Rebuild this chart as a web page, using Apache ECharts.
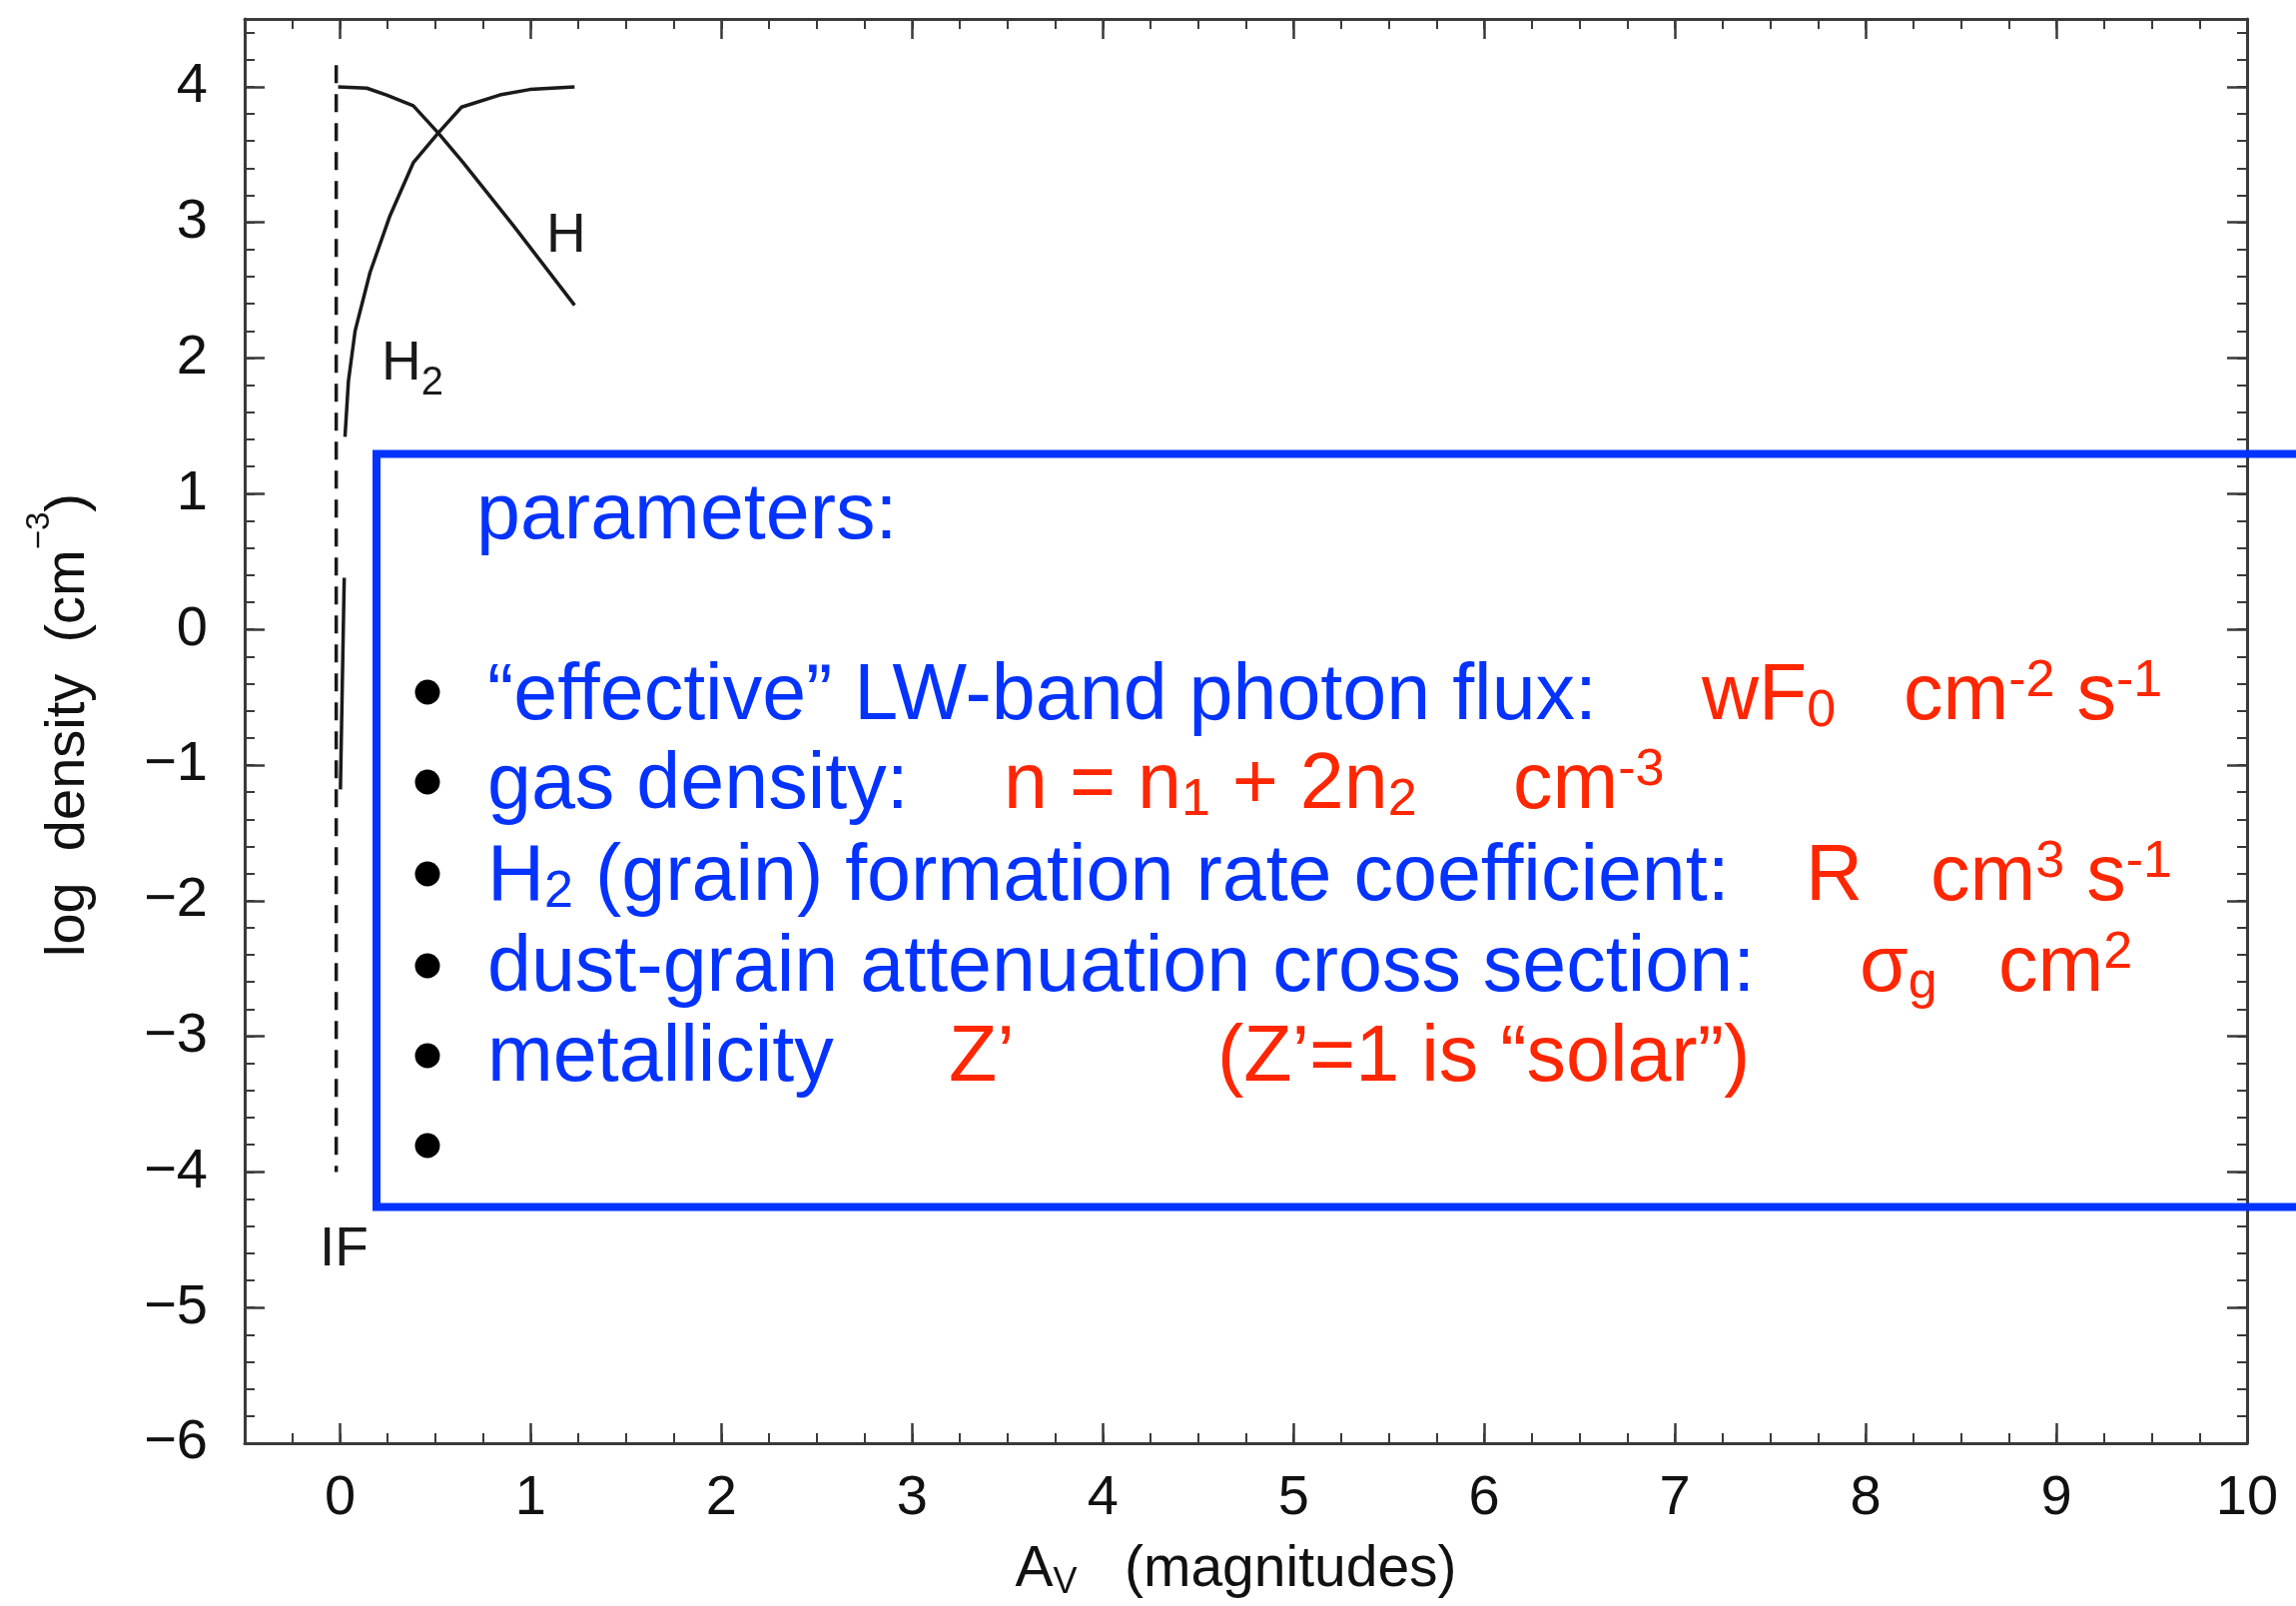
<!DOCTYPE html>
<html>
<head>
<meta charset="utf-8">
<script src="https://cdn.jsdelivr.net/npm/echarts@6/dist/echarts.min.js"></script>
<style>
  html, body { margin: 0; padding: 0; background: #ffffff; }
  #chart { width: 2299px; height: 1608px; }
</style>
</head>
<body>
<div id="chart"></div>
<script>
// ---------- data ----------
const X_TICKS = [0, 1, 2, 3, 4, 5, 6, 7, 8, 9, 10];
const Y_TICKS = [-6, -5, -4, -3, -2, -1, 0, 1, 2, 3, 4];
const X_RANGE = [-0.5, 10];
const Y_RANGE = [-6, 4.5];

// atomic hydrogen density profile (log cm^-3 vs A_V)
const H_CURVE = [
  [-0.01, 4.00], [0.14, 3.99], [0.244, 3.94], [0.384, 3.86], [0.515, 3.66],
  [0.646, 3.44], [0.907, 2.98], [1.23, 2.39]
];
// molecular hydrogen profile; '-' marks the hidden stretch
const H2_CURVE = [
  [1.23, 4.00], [0.995, 3.98], [0.838, 3.94], [0.637, 3.85], [0.515, 3.66],
  [0.384, 3.44], [0.262, 3.05], [0.157, 2.63], [0.079, 2.20], [0.044, 1.83],
  [0.026, 1.42], [0.024, '-'], [0.022, 0.38], [0.012, -0.40], [0.002, -1.18]
];
// ionization front marker
const IF_LINE = [[-0.02, 4.16], [-0.02, -4.0]];

// ---------- styling helpers ----------
const FONT = '"Liberation Sans", Arial, Helvetica, sans-serif';
const BLUE = '#0433ff';
const RED = '#ff2600';
const INK = '#1a1a1a';
const AXIS = '#3a3a3a';

const ctx = document.createElement('canvas').getContext('2d');
function textWidth(t, s) { ctx.font = s + 'px ' + FONT; ctx.textBaseline = 'alphabetic'; return ctx.measureText(t).width; }
function midOffset(s) { ctx.font = s + 'px ' + FONT; ctx.textBaseline = 'middle'; return ctx.measureText('H').actualBoundingBoxDescent; }

// parts: [text, fontSize, baselineShift]
function run(parts, x, base, color) {
  const out = [];
  let cx = x;
  for (const [t, s, dy] of parts) {
    out.push({
      type: 'text', x: cx, y: base + dy - midOffset(s), z: 10,
      style: { text: t, fontSize: s, fontFamily: FONT, fill: color, align: 'left', verticalAlign: 'middle' }
    });
    cx += textWidth(t, s);
  }
  return out;
}

const M = 79, S = 52, SUB = 6, SUP = -24;
const n = t => [t, M, 0];
const sub = t => [t, S, SUB];
const sup = t => [t, S, SUP];

const graphics = [];
// blue parameter box
graphics.push({
  type: 'rect', z: 9,
  shape: { x: 377, y: 454.5, width: 2000, height: 754 },
  style: { fill: 'none', stroke: BLUE, lineWidth: 8 }
});
// bullets
[693, 783, 875, 967, 1057, 1147].forEach(cy => graphics.push({
  type: 'circle', z: 10, shape: { cx: 428, cy: cy, r: 12.5 }, style: { fill: '#000' }
}));

graphics.push(...run([n('parameters:')], 477, 540, BLUE));

graphics.push(...run([n('\u201Ceffective\u201D LW-band photon flux:')], 488, 721, BLUE));
graphics.push(...run([n('wF'), sub('0')], 1704, 721, RED));
graphics.push(...run([n('cm'), sup('-2'), n(' s'), sup('-1')], 1906, 721, RED));

graphics.push(...run([n('gas density:')], 488, 810, BLUE));
graphics.push(...run([n('n = n'), sub('1'), n(' + 2n'), sub('2')], 1005, 810, RED));
graphics.push(...run([n('cm'), sup('-3')], 1515, 810, RED));

graphics.push(...run([n('H'), sub('2'), n(' (grain) formation rate coefficient:')], 488, 902, BLUE));
graphics.push(...run([n('R')], 1808, 902, RED));
graphics.push(...run([n('cm'), sup('3'), n(' s'), sup('-1')], 1933, 902, RED));

graphics.push(...run([n('dust-grain attenuation cross section:')], 488, 993, BLUE));
graphics.push(...run([n('\u03C3'), sub('g')], 1862, 993, RED));
graphics.push(...run([n('cm'), sup('2')], 2001, 993, RED));

graphics.push(...run([n('metallicity')], 488, 1083, BLUE));
graphics.push(...run([n('Z\u2019')], 950, 1083, RED));
graphics.push(...run([n('(Z\u2019=1 is \u201Csolar\u201D)')], 1219, 1083, RED));

// curve annotations
graphics.push(...run([['H', 55, 0]], 547, 252, INK));
graphics.push(...run([['H', 55, 0], ['2', 40, 15]], 382, 380, INK));
graphics.push(...run([['IF', 55, 0]], 320, 1267, INK));

// ---------- axes ----------
const labelFont = { fontFamily: FONT, fontSize: 56, color: '#111' };
function xAx(pos, major, withLabels) {
  return {
    type: 'value', position: pos, min: X_RANGE[0], max: X_RANGE[1],
    axisLine: { show: major, onZero: false, lineStyle: { color: AXIS, width: 3 } },
    axisTick: major
      ? { show: true, inside: true, length: 20, customValues: X_TICKS, lineStyle: { color: AXIS, width: 2.5 } }
      : { show: true, inside: true, length: 10, lineStyle: { color: AXIS, width: 2 } },
    interval: major ? undefined : 0.25,
    axisLabel: withLabels ? Object.assign({ show: true, margin: 28, customValues: X_TICKS }, labelFont) : { show: false },
    splitLine: { show: false },
    name: withLabels ? 'A{s|V}   (magnitudes)' : '',
    nameLocation: 'middle', nameGap: 96,
    nameTextStyle: {
      fontFamily: FONT, fontSize: 57, color: '#111', lineHeight: 62, padding: [0, 20, 0, 0],
      rich: { s: { fontFamily: FONT, fontSize: 36, color: '#111', verticalAlign: 'bottom', lineHeight: 36 } }
    }
  };
}
function yAx(pos, major, withLabels) {
  return {
    type: 'value', position: pos, min: Y_RANGE[0], max: Y_RANGE[1],
    axisLine: { show: major, onZero: false, lineStyle: { color: AXIS, width: 3 } },
    axisTick: major
      ? { show: true, inside: true, length: 20, customValues: Y_TICKS, lineStyle: { color: AXIS, width: 2.5 } }
      : { show: true, inside: true, length: 10, lineStyle: { color: AXIS, width: 2 } },
    interval: major ? undefined : 0.2,
    axisLabel: withLabels ? Object.assign({
      show: true, margin: 37, customValues: Y_TICKS,
      formatter: v => (v < 0 ? '\u2212' + Math.abs(v) : String(v))
    }, labelFont) : { show: false },
    splitLine: { show: false },
    name: withLabels ? 'log  density  (cm{p|\u22123})' : '',
    nameLocation: 'middle', nameGap: 130, nameRotate: 90,
    nameTextStyle: {
      fontFamily: FONT, fontSize: 56, color: '#111', lineHeight: 92, padding: [0, 0, 0, 12],
      rich: { p: { fontFamily: FONT, fontSize: 33, color: '#111', verticalAlign: 'top', lineHeight: 24 } }
    }
  };
}

const option = {
  backgroundColor: '#ffffff',
  animation: false,
  grid: { left: 245, right: 49, top: 19, bottom: 150, containLabel: false },
  xAxis: [xAx('bottom', true, true), xAx('bottom', false, false), xAx('top', true, false), xAx('top', false, false)],
  yAxis: [yAx('left', true, true), yAx('left', false, false), yAx('right', true, false), yAx('right', false, false)],
  series: [
    { name: 'H', type: 'line', data: H_CURVE, showSymbol: false, silent: true,
      lineStyle: { color: INK, width: 3.5 } },
    { name: 'H2', type: 'line', data: H2_CURVE, showSymbol: false, silent: true, connectNulls: false,
      lineStyle: { color: INK, width: 3.5 } },
    { name: 'IF', type: 'line', data: IF_LINE, showSymbol: false, silent: true,
      lineStyle: { color: INK, width: 3.5, type: [18, 11] } }
  ],
  graphic: { elements: graphics }
};

const chart = echarts.init(document.getElementById('chart'), null, { renderer: 'canvas' });
chart.setOption(option);
</script>
</body>
</html>
